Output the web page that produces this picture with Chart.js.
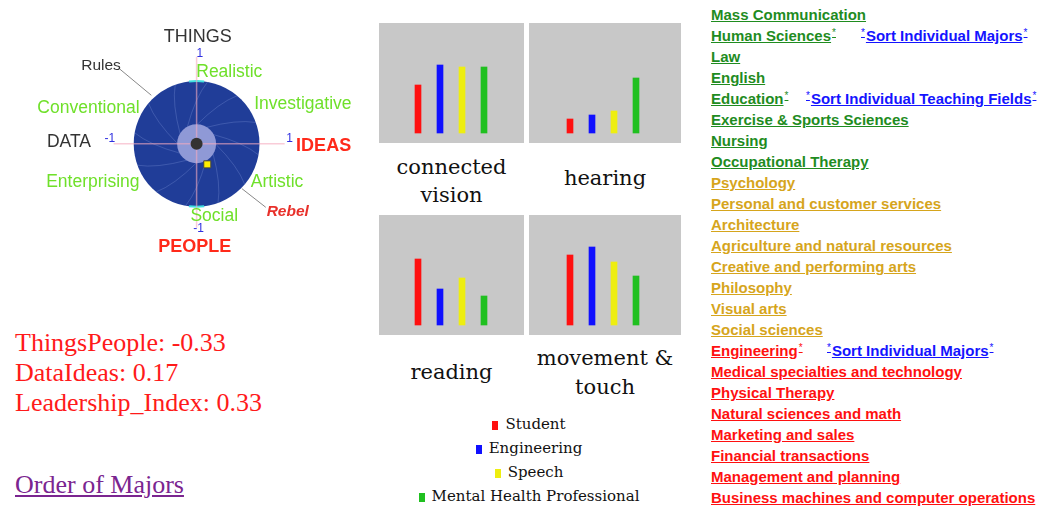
<!DOCTYPE html>
<html>
<head>
<meta charset="utf-8">
<script src="https://cdn.jsdelivr.net/npm/chart.js@4.4.0/dist/chart.umd.min.js"></script>
<style>
  body { margin: 0; background: #fff; width: 1047px; height: 506px; overflow: hidden; position: relative; }
  canvas { position: absolute; }
  .panel { position: absolute; background: #c8c8c8; }
  .cap { position: absolute; text-align: center; font-family: "DejaVu Serif", serif; font-size: 21px; color: #111; line-height: 28px; }
  #legend { position: absolute; left: 400px; width: 258px; top: 412px; text-align: center; font-family: "DejaVu Serif", serif; font-size: 15px; line-height: 24px; color: #111; }
  #legend .mk { display: inline-block; width: 6px; height: 9px; margin-right: 7px; vertical-align: -1px; }
  #scores { position: absolute; left: 15px; top: 328px; font-family: "Liberation Serif", serif; font-size: 26px; line-height: 30px; color: #ff1a1a; }
  #order { position: absolute; left: 15px; top: 470px; font-family: "Liberation Serif", serif; font-size: 26px; line-height: 30px; color: #7b2590; text-decoration: underline; }
  #majors { position: absolute; left: 711px; top: 4px; font-family: "Liberation Sans", Arial, sans-serif; font-weight: bold; font-size: 15px; line-height: 21px; }
  #majors .row { position: relative; height: 21px; white-space: nowrap; }
  #majors span { text-decoration: underline; }
  #majors .sort { position: absolute; top: 0; color: #1414ff; }
  #majors .ast { display: inline-block; font-size: 10px; font-weight: normal; vertical-align: 5px; line-height: 10px; padding: 0 1px; }
</style>
</head>
<body>
<canvas id="circle" width="370" height="280" style="left:0;top:0"></canvas>

<div class="panel" style="left:379px;top:23px;width:145px;height:120px"></div>
<div class="panel" style="left:529px;top:23px;width:152px;height:120px"></div>
<div class="panel" style="left:379px;top:215px;width:145px;height:120px"></div>
<div class="panel" style="left:529px;top:215px;width:152px;height:120px"></div>
<canvas id="bar0" width="145" height="120" style="left:379px;top:23px"></canvas>
<canvas id="bar1" width="152" height="120" style="left:529px;top:23px"></canvas>
<canvas id="bar2" width="145" height="120" style="left:379px;top:215px"></canvas>
<canvas id="bar3" width="152" height="120" style="left:529px;top:215px"></canvas>

<div class="cap" style="left:379px;top:153px;width:145px">connected<br>vision</div>
<div class="cap" style="left:529px;top:164px;width:152px">hearing</div>
<div class="cap" style="left:379px;top:358px;width:145px">reading</div>
<div class="cap" style="left:529px;top:344px;width:152px;line-height:29px">movement &amp;<br>touch</div>

<div id="legend"></div>

<div id="scores">
  <div>ThingsPeople: -0.33</div>
  <div>DataIdeas: 0.17</div>
  <div>Leadership_Index: 0.33</div>
</div>
<div id="order">Order of Majors</div>

<div id="majors"></div>

<script>
// profile scores
var thingsPeople = -0.33;
var dataIdeas = 0.17;
var leadershipIndex = 0.33;

// bar panels
var panelNames = ['connected vision', 'hearing', 'reading', 'movement & touch'];
var seriesNames = ['Student', 'Engineering', 'Speech', 'Mental Health Professional'];
var seriesColors = ['#ff1010', '#1010ff', '#eeee10', '#20c020'];
var connectedVision = [48, 68, 66, 66];
var hearing = [14, 18, 22, 55];
var reading = [66, 36, 47, 29];
var movementTouch = [70, 78, 63, 49];

// majors list
var greenMajors = ['Mass Communication', 'Human Sciences', 'Law', 'English', 'Education',
  'Exercise & Sports Sciences', 'Nursing', 'Occupational Therapy'];
var goldMajors = ['Psychology', 'Personal and customer services', 'Architecture',
  'Agriculture and natural resources', 'Creative and performing arts', 'Philosophy',
  'Visual arts', 'Social sciences'];
var redMajors = ['Engineering', 'Medical specialties and technology', 'Physical Therapy',
  'Natural sciences and math', 'Marketing and sales', 'Financial transactions',
  'Management and planning', 'Business machines and computer operations'];
var sortLinks = { 'Human Sciences': ['Sort Individual Majors', 149],
  'Education': ['Sort Individual Teaching Fields', 94],
  'Engineering': ['Sort Individual Majors', 115] };

// circle diagram labels: text, x, y (circle radius = 1)
var circleLabels = [
  ['THINGS', 0.02, 1.71, '#333', '18px'],
  ['Rules', -1.52, 1.25, '#333', '15.5px'],
  ['Realistic', 0.52, 1.15, '#6fe02a', '17.5px'],
  ['Conventional', -1.72, 0.58, '#6fe02a', '17.5px'],
  ['Investigative', 1.69, 0.63, '#6fe02a', '17.5px'],
  ['DATA', -2.03, 0.02, '#333', '17.5px'],
  ['IDEAS', 2.02, -0.03, '#ff2a1a', 'bold 18px'],
  ['Enterprising', -1.65, -0.62, '#6fe02a', '17.5px'],
  ['Artistic', 1.28, -0.62, '#6fe02a', '17.5px'],
  ['Rebel', 1.45, -1.09, '#e8302a', 'italic bold 15.5px'],
  ['Social', 0.28, -1.17, '#6fe02a', '17.5px'],
  ['PEOPLE', -0.03, -1.66, '#ff2a1a', 'bold 18px']
];
var axisEnd = 1.45;

var circlePlugin = {
  id: 'circle',
  beforeDatasetsDraw: function(chart) {
    var c = chart.ctx, x = chart.scales.x, y = chart.scales.y;
    var cx = x.getPixelForValue(0), cy = y.getPixelForValue(0);
    var r = x.getPixelForValue(1) - cx;
    c.save();
    // leader lines
    c.strokeStyle = '#888'; c.lineWidth = 1;
    c.beginPath();
    c.moveTo(x.getPixelForValue(-1.22), y.getPixelForValue(1.2));
    c.lineTo(x.getPixelForValue(-0.72), y.getPixelForValue(0.78));
    c.moveTo(x.getPixelForValue(0.72), y.getPixelForValue(-0.72));
    c.lineTo(x.getPixelForValue(1.1), y.getPixelForValue(-1.02));
    c.stroke();
    // disc
    c.fillStyle = '#203d98';
    c.beginPath(); c.arc(cx, cy, r, 0, Math.PI * 2); c.fill();
    c.strokeStyle = '#40e0e0'; c.lineWidth = 2;
    c.beginPath(); c.arc(cx, cy, r, -Math.PI / 2 - 0.12, -Math.PI / 2 + 0.12); c.stroke();
    c.beginPath(); c.arc(cx, cy, r, Math.PI / 2 - 0.12, Math.PI / 2 + 0.12); c.stroke();
    // swirl lines
    c.strokeStyle = 'rgba(140,160,225,0.28)'; c.lineWidth = 1;
    for (var i = 0; i < 12; i++) {
      var a = i * Math.PI / 6;
      var a2 = a + 0.7;
      c.beginPath();
      c.moveTo(cx + Math.cos(a) * r * 0.3, cy + Math.sin(a) * r * 0.3);
      c.quadraticCurveTo(cx + Math.cos(a + 0.5) * r * 0.75, cy + Math.sin(a + 0.5) * r * 0.75,
        cx + Math.cos(a2) * r, cy + Math.sin(a2) * r);
      c.stroke();
    }
    // inner
    c.fillStyle = '#8f99d6';
    c.beginPath(); c.arc(cx, cy, r * 0.31, 0, Math.PI * 2); c.fill();
    // axes
    c.strokeStyle = 'rgba(245,170,190,0.6)'; c.lineWidth = 1.5;
    c.beginPath();
    c.moveTo(x.getPixelForValue(-1.32), cy); c.lineTo(x.getPixelForValue(axisEnd - 0.05), cy);
    c.moveTo(cx, y.getPixelForValue(axisEnd - 0.05)); c.lineTo(cx, y.getPixelForValue(-1.35));
    c.stroke();
    c.fillStyle = '#333';
    c.beginPath(); c.arc(cx, cy, 6, 0, Math.PI * 2); c.fill();
    // axis end labels
    c.fillStyle = '#3030e0'; c.font = '12px "Liberation Sans", Arial';
    c.textAlign = 'center'; c.textBaseline = 'middle';
    c.fillText('1', x.getPixelForValue(0.05), y.getPixelForValue(axisEnd));
    c.fillText('-1', x.getPixelForValue(0.03), y.getPixelForValue(-axisEnd + 0.08));
    c.fillText('-1', x.getPixelForValue(-1.38), y.getPixelForValue(0.09));
    c.fillText('1', x.getPixelForValue(1.48), y.getPixelForValue(0.09));
    // labels
    circleLabels.forEach(function(l) {
      c.fillStyle = l[3];
      c.font = l[4] + ' "Liberation Sans", Arial, sans-serif';
      c.fillText(l[0], x.getPixelForValue(l[1]), y.getPixelForValue(l[2]));
    });
    c.restore();
  }
};

new Chart(document.getElementById('circle'), {
  type: 'scatter',
  data: {
    datasets: [
      { data: [{ x: dataIdeas, y: thingsPeople }], pointStyle: 'rect', pointRadius: 5,
        backgroundColor: '#ffee00', borderColor: '#444', borderWidth: 1 },
      { data: [{ x: dataIdeas, y: thingsPeople }], pointRadius: 1.5,
        backgroundColor: '#444', borderWidth: 0 }
    ]
  },
  options: {
    responsive: false, animation: false, devicePixelRatio: 1,
    layout: { padding: 0 },
    plugins: { legend: { display: false }, tooltip: { enabled: false } },
    scales: {
      x: { type: 'linear', display: false, min: -3.031, max: 2.662 },
      y: { type: 'linear', display: false, min: -2.092, max: 2.215 }
    }
  },
  plugins: [circlePlugin]
});

var panelData = [connectedVision, hearing, reading, movementTouch];
var panelPads = [[28, 29], [30, 34], [28, 29], [30, 34]];
panelData.forEach(function(vals, i) {
  new Chart(document.getElementById('bar' + i), {
    type: 'bar',
    data: {
      labels: seriesNames,
      datasets: [{ label: panelNames[i], data: vals, backgroundColor: seriesColors,
        barThickness: 6, borderWidth: 0 }]
    },
    options: {
      responsive: false, animation: false, devicePixelRatio: 1,
      layout: { padding: { left: panelPads[i][0], right: panelPads[i][1], top: 0, bottom: 0 } },
      plugins: { legend: { display: false }, tooltip: { enabled: false } },
      scales: {
        x: { display: false },
        y: { display: false, min: -10, max: 110 }
      }
    }
  });
});

var legend = document.getElementById('legend');
seriesNames.forEach(function(n, i) {
  var d = document.createElement('div');
  d.innerHTML = '<span class="mk" style="background:' + seriesColors[i] + '"></span>' + n;
  legend.appendChild(d);
});

var majors = document.getElementById('majors');
function addRows(list, color) {
  list.forEach(function(m) {
    var row = document.createElement('div');
    row.className = 'row';
    var s = document.createElement('span');
    s.style.color = color;
    s.textContent = m;
    row.appendChild(s);
    if (sortLinks[m]) {
      s.innerHTML += '<span class="ast">*</span>';
      var a = document.createElement('span');
      a.className = 'sort';
      a.style.left = sortLinks[m][1] + 'px';
      a.innerHTML = '<span class="ast">*</span>' + sortLinks[m][0] + '<span class="ast">*</span>';
      row.appendChild(a);
    }
    majors.appendChild(row);
  });
}
addRows(greenMajors, '#1f8c1f');
addRows(goldMajors, '#d6a51c');
addRows(redMajors, '#ff1010');
</script>
</body>
</html>
